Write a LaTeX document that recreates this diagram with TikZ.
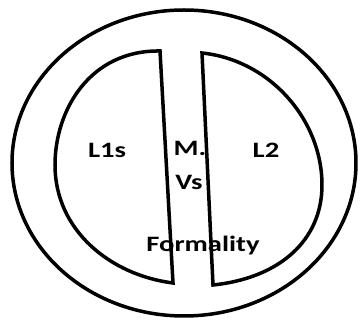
\documentclass[tikz,border=0pt]{standalone}
\usepackage{fontspec}
\setmainfont{Carlito}
\usepackage{tikz}
\usetikzlibrary{positioning}

\newcommand{\widetext}[1]{\scalebox{1.3}[1]{#1}}

\begin{document}
\begin{tikzpicture}[
  x=1pt, y=-1pt,
  ring/.style={draw=black, line width=3.5pt},
  part/.style={draw=black, line width=3.5pt, line join=miter},
  lbl/.style={font=\fontsize{22}{24}\selectfont\bfseries, inner sep=0pt},
]
\useasboundingbox (0,0) rectangle (360,320);

% Outer ring
\draw[ring] (184,163) ellipse [x radius=172, y radius=153];

% Left half
\draw[part] (160,51) .. controls (90,50) and (55,110) .. (55,165)
  .. controls (55,230) and (110,275) .. (173,283) -- cycle;

% Right half
\draw[part] (202,53) .. controls (270,60) and (322,120) .. (322,185)
  .. controls (322,240) and (280,278) .. (213,285) -- cycle;

% Labels
\node[lbl] (l1s) at (107,150) {\widetext{L1s}};
\node[lbl] (mv) at (190,148) {\widetext{M.}};
\node[lbl] (vs) at (189,182) {\widetext{Vs}};
\node[lbl] (l2) at (266,150) {\widetext{L2}};
\node[lbl] (form) at (203,246) {\widetext{Formality}};

\end{tikzpicture}
\end{document}
